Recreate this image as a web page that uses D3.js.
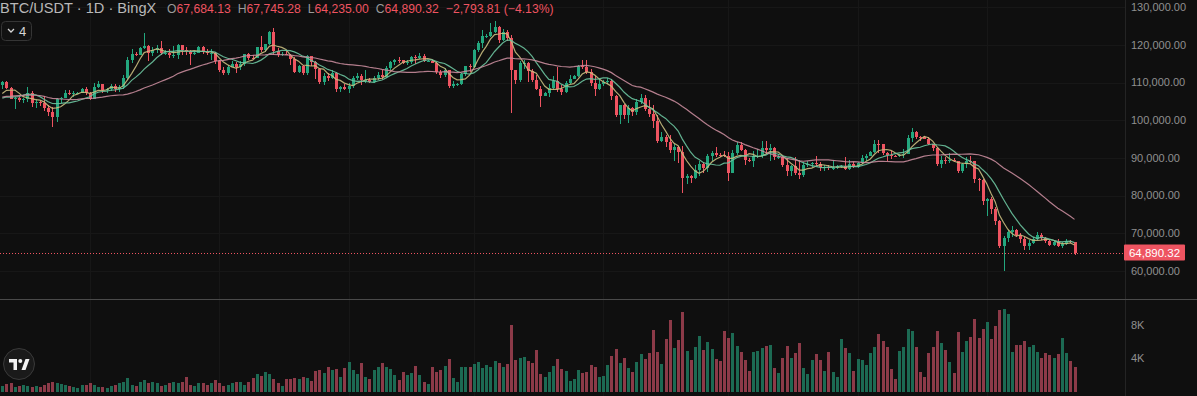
<!DOCTYPE html>
<html lang="en">
<head>
<meta charset="utf-8">
<title>BTC/USDT 1D BingX</title>
<script src="https://cdn.jsdelivr.net/npm/d3@7"></script>
<style>
  html, body { margin: 0; padding: 0; background: #0f0f0f; overflow: hidden; }
  svg { display: block; font-family: "Liberation Sans", Arial, sans-serif; }
</style>
</head>
<body>
<script>
// prices in thousands of USDT, volumes in thousands of BTC

// closes before the visible range, only used to warm up the moving averages
var priorCloses = [102.8,104.1,103.5,103.7,103.5,103.2,106.5,105.6,106.8,109.6,
  111.7,107.3,107.8,109.0,109.4,108.9,107.8,105.6,103.9,104.6,
  105.7,105.8,105.4,104.7,101.6,104.4,105.6,105.8,109.4];

var closes = [110.2,108.6,105.7,106.0,105.4,105.6,107.1,104.5,104.8,104.6,
  103.3,102.1,100.9,105.5,106.0,107.3,106.9,107.1,107.3,108.4,
  107.1,105.7,108.8,109.6,108.0,108.2,109.2,108.2,108.9,111.3,
  115.9,117.5,117.4,119.1,119.8,117.7,118.7,119.2,117.9,117.9,
  117.3,117.4,119.9,118.6,118.3,117.6,117.9,119.4,118.0,117.8,
  117.8,115.7,113.3,112.5,114.2,115.0,114.1,115.0,117.5,116.6,
  116.5,119.3,118.7,120.1,123.3,118.3,117.4,117.5,117.4,116.2,
  112.9,114.3,112.4,116.9,115.4,113.5,110.1,111.8,111.2,112.6,
  108.4,108.8,108.2,109.2,111.2,111.7,110.7,110.7,110.2,111.1,
  112.1,111.5,113.9,115.5,116.1,115.9,115.3,115.4,116.8,116.5,
  117.1,115.7,115.7,115.3,112.7,112.0,113.3,109.0,109.6,109.6,
  112.2,114.4,114.0,118.6,120.6,122.3,122.4,123.5,124.7,121.4,
  123.3,121.7,113.2,110.6,115.2,115.3,113.0,110.7,108.2,106.4,
  107.1,108.6,110.5,108.4,107.5,110.0,111.0,111.6,114.5,114.1,
  112.9,110.0,108.3,109.6,110.1,110.5,106.5,101.5,103.9,101.3,
  103.3,102.2,104.7,106.0,103.0,101.6,99.7,94.5,95.5,94.2,
  92.2,92.9,91.5,84.8,85.1,84.7,86.8,88.3,87.3,90.5,
  91.3,90.9,90.8,90.4,86.0,91.3,93.5,92.1,89.4,89.3,
  90.4,90.6,92.7,92.0,92.5,90.3,90.3,88.2,86.4,87.8,
  86.1,85.4,88.1,88.3,88.6,88.5,87.6,87.6,87.3,87.3,
  87.8,87.8,87.1,88.4,87.5,88.7,89.9,90.6,91.5,93.8,
  93.7,91.2,90.9,90.5,90.4,90.8,91.1,95.3,97.0,95.6,
  95.5,95.1,93.6,92.5,88.3,89.5,89.4,89.5,89.2,86.5,
  88.3,89.2,89.1,84.5,84.1,78.6,79.2,76.5,73.2,66.6,
  68.8,70.3,70.9,69.6,68.4,66.6,67.4,68.6,69.6,68.8,
  67.9,66.9,67.6,66.7,67.2,68.0,67.68413,64.89032];

var highs = [110.4,110.4,108.8,106.2,106.2,105.9,108.9,107.7,105.6,105.2,
  106.5,104.0,103.4,106.0,106.2,108.0,108.0,107.8,107.6,108.5,
  108.8,107.6,109.8,110.5,109.7,108.6,109.7,109.7,109.3,111.9,
  116.8,118.9,118.2,119.5,123.2,119.9,119.5,120.0,120.9,118.5,
  118.9,119.7,120.2,120.0,119.5,118.5,118.3,119.8,119.8,118.9,
  118.8,118.2,116.1,114.0,114.7,115.7,115.4,115.7,117.6,117.7,
  117.2,119.3,122.3,120.2,123.7,124.4,119.2,118.0,118.6,117.6,
  116.8,114.6,114.7,117.4,117.0,115.6,113.7,112.4,112.5,113.3,
  112.7,109.0,109.5,109.9,111.8,112.6,112.2,113.3,111.2,111.6,
  112.9,113.2,114.3,115.6,116.3,116.7,116.1,116.0,117.0,117.3,
  117.9,117.6,116.1,116.0,115.4,113.3,113.9,113.4,110.3,110.0,
  112.4,114.5,114.8,118.8,121.0,123.9,122.9,125.7,126.2,125.1,
  124.2,123.8,122.6,113.4,115.6,116.0,115.4,113.6,111.9,109.2,
  107.5,109.5,111.7,114.0,109.3,110.3,111.9,111.9,114.6,116.1,
  116.1,113.6,111.6,111.0,110.6,111.2,110.8,106.6,104.0,104.2,
  104.0,103.4,105.5,107.0,106.6,105.3,104.0,101.5,96.8,96.0,
  96.0,93.8,93.2,93.1,85.6,85.5,88.0,89.1,89.0,91.0,
  91.9,92.9,91.3,91.9,91.5,92.2,94.1,94.1,92.3,90.0,
  91.8,92.3,94.6,94.5,93.6,92.8,91.0,90.6,90.0,88.2,
  90.3,89.4,88.8,89.1,89.0,90.5,89.0,88.1,88.0,89.5,
  88.0,88.1,90.3,89.4,89.0,88.9,90.9,91.0,91.8,94.8,
  94.7,93.7,91.5,91.8,90.9,91.1,92.4,96.2,97.9,97.2,
  95.9,95.8,95.5,93.6,92.8,90.4,90.2,91.3,90.0,89.3,
  88.7,90.2,90.4,89.2,84.7,84.4,79.4,79.5,76.9,73.5,
  69.4,71.0,71.9,71.2,70.0,69.0,68.3,69.0,70.4,70.0,
  69.0,68.2,68.0,68.4,67.6,68.5,68.3,67.74528];

var lows = [108.4,108.2,105.5,103.0,104.9,104.6,104.9,103.4,103.2,103.8,
  102.5,101.0,98.2,99.6,104.6,105.8,106.6,106.2,106.9,107.2,
  106.8,105.3,105.6,108.6,107.3,107.3,107.8,107.5,107.5,108.4,
  110.6,115.2,116.9,117.2,118.9,115.8,116.9,117.9,117.3,117.3,
  116.6,116.5,116.2,117.3,117.4,114.7,117.3,117.8,117.5,117.4,
  115.9,115.0,112.7,112.0,112.1,114.0,112.6,113.4,114.3,115.9,
  116.3,116.4,118.1,118.1,119.9,117.2,116.8,117.1,117.2,114.7,
  112.6,112.4,112.0,112.0,114.5,110.9,109.7,109.4,110.4,110.9,
  107.4,107.4,108.0,107.3,108.6,110.6,109.4,110.0,109.9,110.0,
  110.6,110.9,111.4,113.4,114.7,115.3,114.9,114.6,114.8,114.8,
  116.2,115.4,115.4,115.1,112.2,111.1,111.5,108.6,108.6,109.2,
  109.3,111.6,112.7,113.9,118.2,119.2,121.9,122.1,123.0,120.6,
  121.0,121.1,102.0,109.6,110.1,113.7,110.1,110.2,107.9,103.5,
  106.3,106.1,108.0,107.5,106.7,107.3,109.7,110.9,111.4,113.7,
  112.2,109.2,106.3,108.1,109.2,109.6,105.3,100.8,98.9,100.3,
  99.3,101.0,101.4,104.3,102.5,100.8,98.0,94.0,94.3,92.9,
  91.3,89.3,88.6,80.6,83.0,83.3,84.4,85.3,86.1,86.3,
  89.2,90.2,90.2,90.3,83.8,86.1,90.9,91.7,88.1,88.9,
  87.7,89.9,89.9,91.0,89.3,89.5,89.8,87.6,85.2,85.3,
  85.4,84.4,84.9,87.7,87.7,87.9,86.6,86.4,86.9,86.7,
  87.1,87.3,86.7,86.9,87.2,87.3,88.4,89.3,90.4,91.3,
  91.3,90.7,89.3,89.7,90.2,90.2,90.0,91.0,94.3,95.1,
  94.6,94.9,93.3,91.9,87.8,87.3,88.5,88.6,88.9,86.1,
  86.1,87.2,88.6,83.4,81.1,77.5,74.5,75.0,72.3,66.0,
  60.0,67.8,69.0,68.9,67.3,65.7,65.6,67.2,68.1,68.2,
  67.4,66.6,66.5,66.3,66.1,66.9,67.3,64.235];

var volumes = [0.68,0.92,1.0,0.52,0.68,0.8,0.68,0.52,0.68,0.52,
  0.8,1.0,1.19,1.07,0.92,0.8,0.68,0.52,0.4,0.8,
  0.8,1.0,0.8,0.52,0.52,0.4,0.68,0.8,1.0,1.19,
  1.67,0.8,0.68,1.19,1.39,1.0,1.19,1.07,0.68,0.8,
  1.07,1.19,1.0,1.19,1.79,0.8,0.68,1.07,1.07,0.8,
  1.07,1.39,1.0,0.68,0.8,1.07,1.19,1.19,0.8,1.19,
  1.59,2.12,1.87,2.4,2.12,1.47,1.0,0.68,1.47,1.47,
  1.67,1.47,1.79,1.67,1.31,2.52,2.6,2.28,3.0,2.6,
  2.68,1.79,2.8,3.6,2.6,2.12,3.48,1.79,1.47,2.6,
  3.0,3.4,3.0,2.68,2.0,1.39,2.4,2.0,2.28,3.08,
  2.0,1.19,0.92,3.0,2.4,2.6,3.08,3.88,1.59,1.19,
  3.0,3.0,3.0,3.32,3.6,2.8,3.2,3.0,3.68,3.4,
  3.0,3.32,8.0,3.8,4.08,4.2,3.68,3.48,5.0,2.12,
  1.79,2.4,3.08,3.88,2.68,2.52,1.27,1.47,2.6,2.2,
  2.4,3.2,3.0,1.79,1.87,3.2,4.28,5.08,3.4,4.0,
  2.8,2.4,3.6,4.52,3.88,4.6,7.4,4.8,3.32,6.27,
  8.6,5.28,6.2,9.6,4.88,3.8,5.4,6.67,5.0,5.92,
  5.12,3.88,3.68,7.28,6.4,7.0,5.48,4.72,3.8,2.52,
  4.72,4.88,5.2,5.48,5.6,2.8,2.2,4.0,5.48,4.0,
  4.6,5.88,2.8,2.12,3.8,4.52,3.8,2.48,4.72,2.32,
  1.79,6.27,5.28,4.6,2.52,3.88,3.8,3.2,4.6,5.4,
  6.92,6.08,5.4,2.68,1.51,4.92,5.4,7.48,7.28,5.4,
  2.4,1.72,4.6,5.4,7.28,5.88,5.0,3.6,2.28,7.12,
  4.72,6.08,6.6,8.71,6.4,7.52,8.36,6.27,7.88,9.8,
  9.88,9.32,4.72,5.6,5.6,6.12,5.4,5.6,4.72,4.08,
  4.6,4.4,4.08,4.48,6.4,4.6,3.68,3.0];

var priceTicks = [60, 70, 80, 90, 100, 110, 120, 130];
var volumeTicks = [4, 8];
var maLengths = [5, 10, 30];
var monthStarts = [21, 52, 83, 113, 144, 174, 205, 236];

var W = 1197, H = 396;
var plotRight = 1125;
var upColor = "#23a77e", downColor = "#ee5461";
var volUp = "#1c6a53", volDown = "#8c3a48";
var maColors = ["#c9bd7f", "#6cc39f", "#c68b9b"];

var n = closes.length;
var opens = closes.map(function(c, i) { return i ? closes[i - 1] : priorCloses[priorCloses.length - 1]; });

var x = d3.scaleLinear().domain([0, n - 1]).range([2.3, 1074.5]);
var y = d3.scaleLinear().domain([60, 130]).range([271, 7.1]);
var yv = d3.scaleLinear().domain([0, 8]).range([391.6, 325]);

var svg = d3.select("body").append("svg")
  .attr("width", W).attr("height", H);

svg.append("rect").attr("width", W).attr("height", H).attr("fill", "#0f0f0f");

// faint grid
var grid = svg.append("g").attr("stroke", "#171717").attr("shape-rendering", "crispEdges");
grid.selectAll("line.v").data(monthStarts).enter().append("line")
  .attr("x1", function(d) { return Math.round(x(d)) + 0.5; })
  .attr("x2", function(d) { return Math.round(x(d)) + 0.5; })
  .attr("y1", 0).attr("y2", H);
grid.selectAll("line.h").data(priceTicks).enter().append("line")
  .attr("x1", 0).attr("x2", plotRight)
  .attr("y1", function(d) { return Math.round(y(d)) + 0.5; })
  .attr("y2", function(d) { return Math.round(y(d)) + 0.5; });

// volume
svg.append("g").attr("shape-rendering", "crispEdges")
  .selectAll("rect").data(volumes).enter().append("rect")
  .attr("x", function(d, i) { return Math.round(x(i)) - 1; })
  .attr("width", 3)
  .attr("y", function(d) { return yv(d); })
  .attr("height", function(d) { return yv(0) - yv(d); })
  .attr("fill", function(d, i) { return closes[i] >= opens[i] ? volUp : volDown; });

// candles
var candles = svg.append("g").attr("shape-rendering", "crispEdges");
candles.selectAll("line").data(closes).enter().append("line")
  .attr("x1", function(d, i) { return Math.round(x(i)) + 0.5; })
  .attr("x2", function(d, i) { return Math.round(x(i)) + 0.5; })
  .attr("y1", function(d, i) { return y(highs[i]); })
  .attr("y2", function(d, i) { return y(lows[i]); })
  .attr("stroke", function(d, i) { return d >= opens[i] ? upColor : downColor; });
candles.selectAll("rect").data(closes).enter().append("rect")
  .attr("x", function(d, i) { return Math.round(x(i)) - 1; })
  .attr("width", 3)
  .attr("y", function(d, i) { return y(Math.max(d, opens[i])); })
  .attr("height", function(d, i) { return Math.max(1, Math.abs(y(d) - y(opens[i]))); })
  .attr("fill", function(d, i) { return d >= opens[i] ? upColor : downColor; });

// moving averages
var all = priorCloses.concat(closes);
function sma(len) {
  return closes.map(function(c, i) {
    var end = i + priorCloses.length + 1;
    return d3.mean(all.slice(Math.max(0, end - len), end));
  });
}
var line = d3.line().x(function(d, i) { return x(i); }).y(function(d) { return y(d); });
maLengths.forEach(function(len, k) {
  svg.append("path").datum(sma(len))
    .attr("d", line).attr("fill", "none")
    .attr("stroke", maColors[k]).attr("stroke-width", 1.2)
    .attr("stroke-opacity", 0.9);
});

// last price line
var last = closes[n - 1];
svg.append("line")
  .attr("x1", 0).attr("x2", plotRight)
  .attr("y1", Math.round(y(last)) + 0.5).attr("y2", Math.round(y(last)) + 0.5)
  .attr("stroke", downColor).attr("stroke-dasharray", "1,2");

// pane borders
svg.append("line").attr("x1", plotRight + 0.5).attr("x2", plotRight + 0.5)
  .attr("y1", 0).attr("y2", H).attr("stroke", "#242424");
svg.append("line").attr("x1", 0).attr("x2", W)
  .attr("y1", 299.5).attr("y2", 299.5).attr("stroke", "#4a4a4a");

// axis labels
var fmt = d3.format(",.2f");
svg.append("g").selectAll("text").data(priceTicks).enter().append("text")
  .attr("x", 1131).attr("y", function(d) { return y(d); })
  .attr("dy", "0.35em").attr("font-size", 11).attr("fill", "#8f8f8f")
  .text(function(d) { return fmt(d * 1000); });
svg.append("g").selectAll("text").data(volumeTicks).enter().append("text")
  .attr("x", 1131).attr("y", function(d) { return yv(d); })
  .attr("dy", "0.35em").attr("font-size", 11).attr("fill", "#8f8f8f")
  .text(function(d) { return d + "K"; });

// last price tag
svg.append("rect").attr("x", 1124).attr("y", y(last) - 8).attr("width", 61).attr("height", 16)
  .attr("rx", 1).attr("fill", downColor);
svg.append("text").attr("x", 1154.5).attr("y", y(last)).attr("dy", "0.36em")
  .attr("text-anchor", "middle").attr("font-size", 11.5).attr("fill", "#ffffff")
  .text(fmt(last * 1000));

// legend
svg.append("text").attr("x", 0).attr("y", 13).attr("font-size", 14.6).attr("fill", "#b9b9b9")
  .text("BTC/USDT · 1D · BingX");
var prevClose = closes[n - 2];
var chg = (last - prevClose) * 1000;
var legend = svg.append("text").attr("x", 167).attr("y", 13).attr("font-size", 12.2);
[["O", opens[n - 1]], ["H", highs[n - 1]], ["L", lows[n - 1]], ["C", last]].forEach(function(p, k) {
  legend.append("tspan").attr("fill", "#9a9a9a").attr("dx", k ? 7 : 0).text(p[0]);
  legend.append("tspan").attr("fill", downColor).text(fmt(p[1] * 1000));
});
legend.append("tspan").attr("fill", downColor).attr("dx", 7)
  .text(d3.format(",.2f")(chg) + " (" + d3.format(".2f")(chg / (prevClose * 1000) * 100) + "%)");

// indicators toggle
svg.append("rect").attr("x", 1.5).attr("y", 21.5).attr("width", 30).attr("height", 19)
  .attr("rx", 4).attr("fill", "#121212").attr("stroke", "#353535");
svg.append("path").attr("d", "M8,29 L11,32 L14,29").attr("fill", "none")
  .attr("stroke", "#d6d6d6").attr("stroke-width", 1.3);
svg.append("text").attr("x", 19).attr("y", 36).attr("font-size", 13).attr("fill", "#d6d6d6").text("4");

// logo
var logo = svg.append("g");
logo.append("circle").attr("cx", 19).attr("cy", 364).attr("r", 15.5)
  .attr("fill", "#1a1a1a").attr("stroke", "#3a3a3a");
logo.append("path").attr("fill", "#f2f2f2")
  .attr("d", "M9,359 H17 V370 H13.5 V362.5 H9 Z M21.5,370 L25.5,359 H29.5 L25.5,370 Z");
logo.append("circle").attr("cx", 20.3).attr("cy", 361).attr("r", 2).attr("fill", "#f2f2f2");
</script>
</body>
</html>
